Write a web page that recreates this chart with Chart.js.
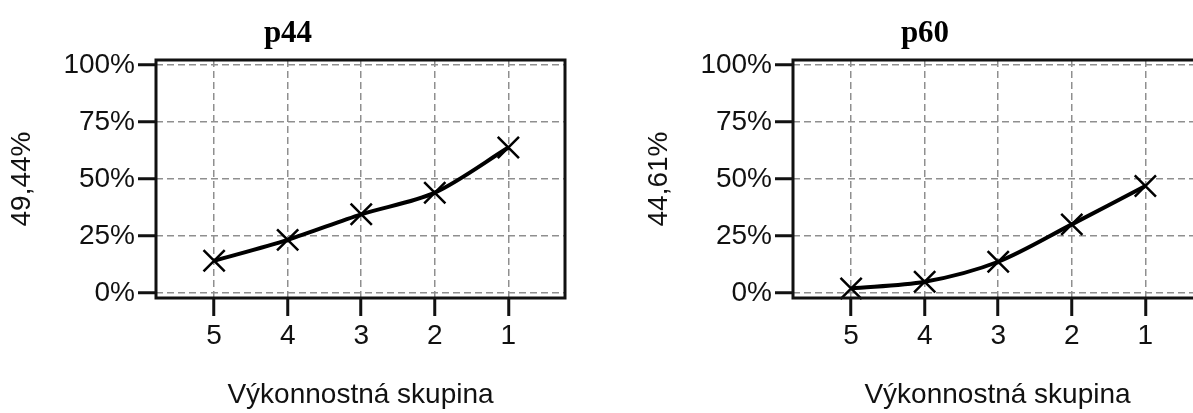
<!DOCTYPE html>
<html lang="sk">
<head>
  <meta charset="UTF-8" />
  <title>p44 / p60</title>
  <script src="https://cdn.jsdelivr.net/npm/chart.js"></script>
  <style>
    html, body {
      margin: 0;
      padding: 0;
      background: #fff;
      width: 1193px;
      height: 413px;
      overflow: hidden;
    }

    .panel {
      position: absolute;
      top: 0;
      width: 637px;
      height: 413px;
    }

    .panel canvas {
      display: block;
    }

    .title {
      position: absolute;
      top: 14px;
      line-height: 1;
      font: bold 31px 'Liberation Serif', serif;
      color: #000;
      transform: translateX(-50%);
      white-space: nowrap;
    }
  </style>
</head>
<body>
  <div class="panel" style="left:0">
    <div class="title" id="t1" style="left:288px"></div>
    <canvas id="c1" width="637" height="413"></canvas>
  </div>
  <div class="panel" style="left:637px">
    <div class="title" id="t2" style="left:288px"></div>
    <canvas id="c2" width="637" height="413"></canvas>
  </div>

  <script>
    // data
    const categories = ['5', '4', '3', '2', '1'];
    const p44Values = [14.1, 23.3, 34.5, 44.0, 63.8];
    const p60Values = [2.0, 4.9, 13.7, 30.1, 46.9];
    const yTicks = [0, 25, 50, 75, 100];
    const titles = ['p44', 'p60'];
    const yTitles = ['49,44%', '44,61%'];
    const xTitle = 'Výkonnostná skupina';

    const textFont = { family: "'Liberation Sans', Arial, sans-serif", size: 28 };

    // black frame around the plot area
    const frame = {
      id: 'frame',
      afterDraw(chart) {
        const a = chart.chartArea;
        const ctx = chart.ctx;
        ctx.save();
        ctx.strokeStyle = '#111';
        ctx.lineWidth = 3;
        ctx.strokeRect(a.left, a.top, a.right - a.left, a.bottom - a.top);
        ctx.restore();
      }
    };

    function makeChart(canvasId, values, yTitle) {
      return new Chart(document.getElementById(canvasId), {
        type: 'line',
        data: {
          datasets: [{
            data: values.map((v, i) => ({ x: i, y: v })),
            borderColor: '#000',
            borderWidth: 4,
            tension: 0.3,
            fill: false,
            clip: false,
            pointStyle: 'crossRot',
            pointRadius: 15,
            pointBorderWidth: 2.5,
            pointBorderColor: '#000',
            pointBackgroundColor: '#000'
          }]
        },
        options: {
          responsive: false,
          animation: false,
          events: [],
          layout: { padding: { top: 60, right: 72, left: 0, bottom: 0 } },
          plugins: {
            legend: { display: false },
            tooltip: { enabled: false }
          },
          scales: {
            x: {
              type: 'linear',
              min: -0.79,
              max: 4.77,
              afterBuildTicks: s => { s.ticks = categories.map((c, i) => ({ value: i })); },
              afterFit: s => { s.height = 115; },
              ticks: {
                callback: v => categories[v],
                font: textFont,
                color: '#111',
                padding: 3,
                maxRotation: 0,
                autoSkip: false
              },
              grid: {
                color: '#8f8f8f',
                lineWidth: 1.5,
                tickLength: 18,
                tickColor: '#111',
                tickWidth: 3
              },
              border: { display: false, dash: [7, 4] },
              title: {
                display: true,
                text: xTitle,
                font: textFont,
                color: '#111',
                padding: { top: 0, bottom: 1 }
              }
            },
            y: {
              min: -2.2,
              max: 102.2,
              afterBuildTicks: s => { s.ticks = yTicks.map(v => ({ value: v })); },
              afterFit: s => { s.width = 156; },
              ticks: {
                callback: v => v + '%',
                font: textFont,
                color: '#111',
                padding: 3
              },
              grid: {
                color: '#8f8f8f',
                lineWidth: 1.5,
                tickLength: 18,
                tickColor: '#111',
                tickWidth: 3
              },
              border: { display: false, dash: [7, 4] },
              title: {
                display: true,
                text: yTitle,
                font: textFont,
                color: '#111',
                padding: { top: 5, bottom: 0 }
              }
            }
          }
        },
        plugins: [frame]
      });
    }

    document.getElementById('t1').textContent = titles[0];
    document.getElementById('t2').textContent = titles[1];
    makeChart('c1', p44Values, yTitles[0]);
    makeChart('c2', p60Values, yTitles[1]);
  </script>
</body>
</html>
